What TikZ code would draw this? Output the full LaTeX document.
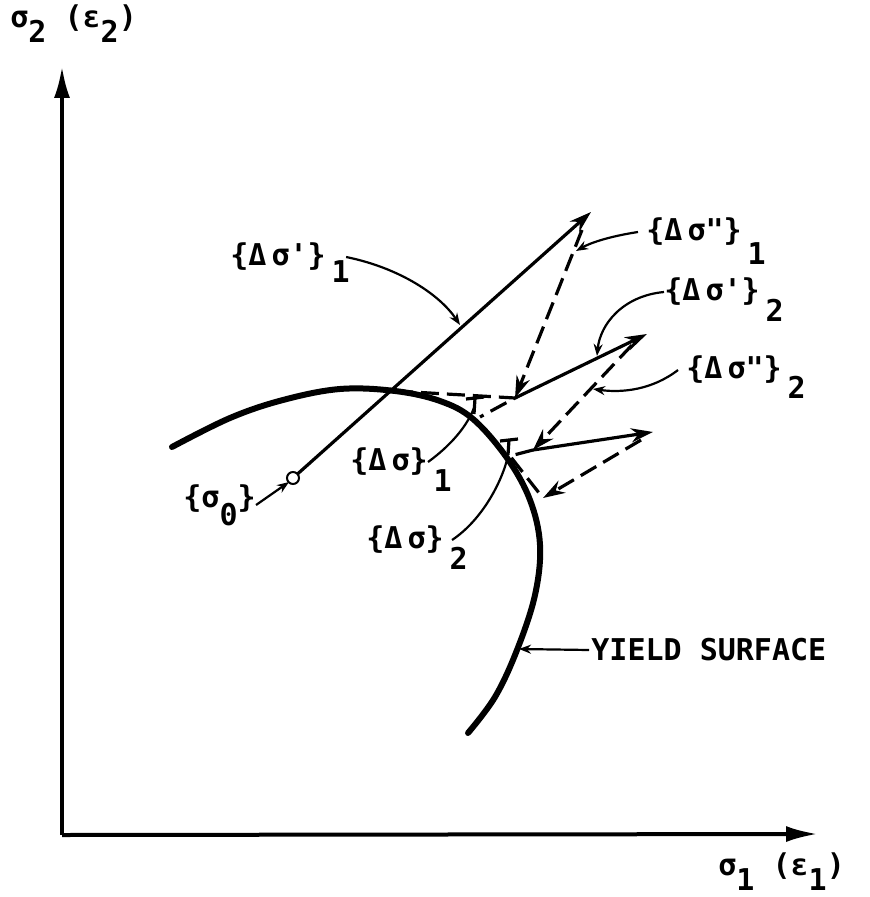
\documentclass[tikz,border=0pt]{standalone}
\usepackage{fontspec}
\usepackage{tikz}
\newfontfamily\lettering{DejaVu Sans Mono}
\usetikzlibrary{arrows.meta}

% lowered index written after a label, kept out of the node box
\newcommand{\lsub}[2][0.7em]{\rlap{\hspace{3pt}\raisebox{-#1}[0pt][0pt]{#2}}}

\begin{document}
\begin{tikzpicture}[x=0.5pt,y=-0.5pt,
    axis/.style={line width=2pt,-{Latex[length=16pt,width=8pt]}},
    vec/.style={line width=1.6pt,-{Stealth[length=11pt,width=7pt]}},
    corr/.style={line width=1.6pt,dash pattern=on 9pt off 4pt},
    leader/.style={line width=1.1pt,-{Stealth[length=6pt,width=4.5pt]}},
    lbl/.style={font=\lettering\bfseries\fontsize{15}{17}\selectfont,inner sep=0pt}]
    \useasboundingbox (0,0) rectangle (870,897);

    % Axes
    \coordinate (o) at (62,835);
    \coordinate (ytip) at (62,66);
    \coordinate (xtip) at (818,834);
    \draw[axis] (o) -- (ytip);
    \draw[axis] (o) -- (xtip);
    \node[lbl,anchor=west] (ylab) at (10,24) {σ\raisebox{-0.5em}{2} (ε\raisebox{-0.5em}{2})};
    \node[lbl,anchor=west] (xlab) at (718,872) {σ\raisebox{-0.5em}{1} (ε\raisebox{-0.5em}{1})};

    % Yield surface
    \draw[line width=3pt,line cap=round] plot[smooth,tension=0.6] coordinates {(172,447) (230,418) (283,400) (340,389) (395,391) (440,401) (473,419) (507,458) (530,500) (540,545) (535,595) (517,650) (495,697) (468,733)};

    % Stress points
    \coordinate (s0) at (293,478);
    \coordinate (t1) at (591,212);
    \coordinate (c1) at (515,398);
    \coordinate (t2) at (647,334);
    \coordinate (c2) at (533,450);
    \coordinate (t3) at (653,432);
    \coordinate (c3) at (543,498);

    % Trial increments
    \draw[vec] (s0) -- (t1);
    \draw[vec] (c1) -- (t2);
    \draw[vec] (c2) -- (t3);
    \draw[line width=1pt,fill=white] (s0) circle (3pt);

    % Corrections
    \draw[corr,-{Stealth[length=11pt,width=7pt]}] (582,230) -- (c1);
    \draw[corr,-{Stealth[length=11pt,width=7pt]}] (632,345) -- (c2);
    \draw[corr,-{Stealth[length=11pt,width=7pt]}] (641,440) -- (c3);
    \draw[corr] (395,391) -- (c1) -- (480,417);
    \draw[corr] (c2) -- (510,456) -- (c3);

    % Normal marks
    \draw[line width=1.6pt] (466,399) -- (484,397) (475,398) -- (474,414);
    \draw[line width=1.6pt] (500,441) -- (518,439) (509,440) -- (508,455);

    % Labels
    \node[lbl,anchor=west] (dsp1) at (230,257) {\{Δ\,σ'\}\lsub[0.55em]{1}};
    \node[lbl,anchor=west] (ddp1) at (646,232) {\{Δ\,σ"\}\lsub[0.8em]{1}};
    \node[lbl,anchor=west] (dsp2) at (664,292) {\{Δ\,σ'\}\lsub{2}};
    \node[lbl,anchor=west] (ddp2) at (686,370) {\{Δ\,σ"\}\lsub[0.65em]{2}};
    \node[lbl,anchor=west] (ds1) at (350,462) {\{Δ\,σ\}\lsub{1}};
    \node[lbl,anchor=west] (ds2) at (366,540) {\{Δ\,σ\}\lsub{2}};
    \node[lbl,anchor=west] (s0lab) at (183,505) {\{σ\raisebox{-0.6em}{0}\}};
    \node[lbl,anchor=west] (ylab2) at (591,650) {YIELD SURFACE};

    % Leaders
    \draw[leader] ([xshift=10pt]dsp1.east) .. controls (400,268) and (440,295) .. (460,325);
    \draw[leader] ([xshift=-4pt]ddp1.west) .. controls (612,236) and (592,242) .. (576,251);
    \draw[leader] (dsp2.west) .. controls (622,296) and (600,325) .. (597,356);
    \draw[leader] ([xshift=-4pt]ddp2.west) .. controls (652,390) and (622,393) .. (593,389);
    \draw[line width=1.1pt] (ds1.east) .. controls (450,446) and (468,426) .. (475,405);
    \draw[line width=1.1pt] ([xshift=4pt]ds2.east) .. controls (482,520) and (502,482) .. (508,456);
    \draw[leader] (s0lab.east) -- (289,482);
    \draw[leader] ([xshift=-1pt]ylab2.west) -- (519,649);
\end{tikzpicture}
\end{document}
